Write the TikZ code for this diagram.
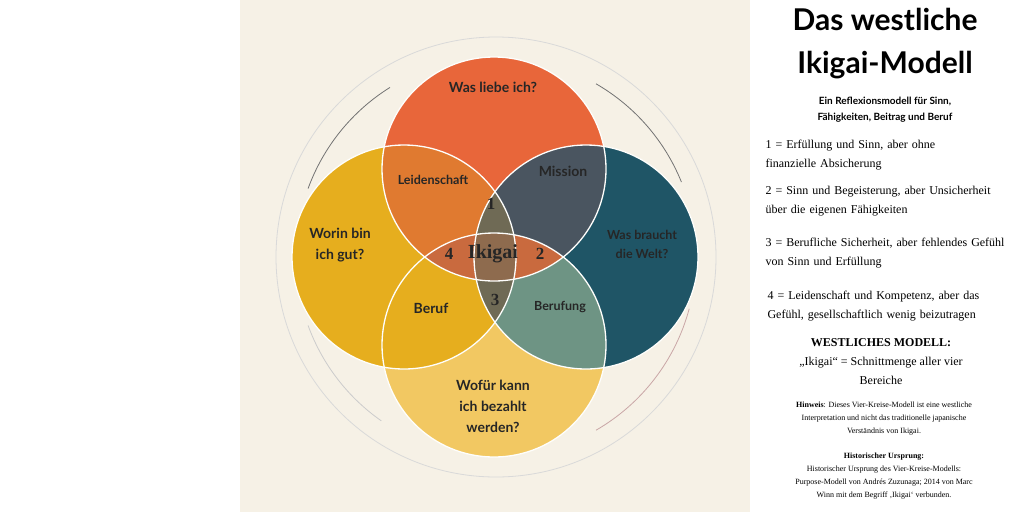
\documentclass[tikz,border=0pt]{standalone}
\usepackage{fontspec}
\setmainfont{Liberation Serif}
\newfontfamily\lato{Lato}
\definecolor{beige}{HTML}{F6F1E6}
\definecolor{cLove}{HTML}{E8663A}
\definecolor{cGood}{HTML}{E6AE1E}
\definecolor{cWorld}{HTML}{1F5566}
\definecolor{cPaid}{HTML}{F2C862}
\definecolor{cPassion}{HTML}{E07A30}
\definecolor{cMission}{HTML}{4A5560}
\definecolor{cVocation}{HTML}{6E9484}
\definecolor{cHoriz}{HTML}{C96A3E}
\definecolor{cVert}{HTML}{6F6A55}
\definecolor{cCore}{HTML}{8E6B4E}
\begin{document}
\begin{tikzpicture}[x=1pt,y=-1pt,
    lbl/.style={font=\lato\bfseries\fontsize{13}{16}\selectfont,align=center,text=black!85},
    num/.style={font=\bfseries\fontsize{17}{18}\selectfont,text=black!85},
    item/.style={font=\fontsize{12}{19}\selectfont,align=left,anchor=west,text width=260pt}]
  \useasboundingbox (0,0) rectangle (1024,512);
  \fill[white] (0,0) rectangle (1024,512);
  \fill[beige] (240,0) rectangle (750,512);
  % centres
  \coordinate (love) at (494,169);
  \coordinate (good) at (404,257);
  \coordinate (world) at (586,257);
  \coordinate (paid) at (494,345);
  \def\rr{112}
  % outer rings (y axis points down, so angles are mirrored)
  \draw[black!15,line width=0.8] (496,257) circle[radius=220];
  \draw[black!55,line width=0.8] (496,257) ++(-122:200) arc[start angle=-122,end angle=-160,radius=200];
  \draw[black!55,line width=0.8] (496,257) ++(-22:200) arc[start angle=-22,end angle=-60,radius=200];
  \draw[red!40!black!35,line width=0.8] (496,257) ++(15:200) arc[start angle=15,end angle=60,radius=200];
  \draw[black!20,line width=0.8] (496,257) ++(125:200) arc[start angle=125,end angle=160,radius=200];
  % circles
  \fill[cGood] (good) circle[radius=\rr];
  \fill[cWorld] (world) circle[radius=\rr];
  \fill[cPaid] (paid) circle[radius=\rr];
  \fill[cLove] (love) circle[radius=\rr];
  \begin{scope}\clip (love) circle[radius=\rr];
    \fill[cPassion] (good) circle[radius=\rr];
    \fill[cMission] (world) circle[radius=\rr];
  \end{scope}
  \begin{scope}\clip (paid) circle[radius=\rr];
    \fill[cGood] (good) circle[radius=\rr];
    \fill[cVocation] (world) circle[radius=\rr];
  \end{scope}
  \begin{scope}\clip (love) circle[radius=\rr];
    \fill[cHoriz] (paid) circle[radius=\rr];
  \end{scope}
  \begin{scope}\clip (good) circle[radius=\rr];
    \fill[cVert] (world) circle[radius=\rr];
    \clip (world) circle[radius=\rr];
    \clip (love) circle[radius=\rr];
    \fill[cCore] (paid) circle[radius=\rr];
  \end{scope}
  \foreach \c in {love,good,world,paid}
    \draw[white!90!beige,line width=1.3] (\c) circle[radius=\rr];
  % labels
  \node[lbl,font=\lato\bfseries\fontsize{14}{16}\selectfont] (qLove) at (493,87) {Was liebe ich?};
  \node[lbl,font=\lato\bfseries\fontsize{14}{21}\selectfont] (qGood) at (340,245) {Worin bin\\ich gut?};
  \node[lbl,font=\lato\bfseries\fontsize{12.5}{19}\selectfont] (qWorld) at (642,244) {Was braucht\\die Welt?};
  \node[lbl,font=\lato\bfseries\fontsize{14}{21}\selectfont] (qPaid) at (493,406) {Wofür kann\\ich bezahlt\\werden?};
  \node[lbl,font=\lato\bfseries\fontsize{12.5}{14}\selectfont] (passion) at (433,180) {Leidenschaft};
  \node[lbl,font=\lato\bfseries\fontsize{14}{16}\selectfont] (mission) at (563,171) {Mission};
  \node[lbl,font=\lato\bfseries\fontsize{14}{16}\selectfont] (profession) at (431,308) {Beruf};
  \node[lbl,font=\lato\bfseries\fontsize{12.5}{14}\selectfont] (vocation) at (560,307) {Berufung};
  \node[num] (n1) at (491,204) {1};
  \node[num] (n4) at (449,254) {4};
  \node[num,font=\bfseries\fontsize{20}{21}\selectfont] (core) at (493,254) {Ikigai};
  \node[num] (n2) at (540,254) {2};
  \node[num] (n3) at (495,300) {3};
  % side panel
  \node[font=\lato\bfseries\fontsize{30}{43}\selectfont,align=center] (title) at (885,44) {Das westliche\\Ikigai-Modell};
  \node[font=\lato\bfseries\fontsize{10}{16}\selectfont,align=center] (sub) at (885,110) {Ein Reflexionsmodell für Sinn,\\Fähigkeiten, Beitrag und Beruf};
  \node[item] (i1) at (762,155) {1 = Erfüllung und Sinn, aber ohne\\finanzielle Absicherung};
  \node[item] (i2) at (762,201) {2 = Sinn und Begeisterung, aber Unsicherheit\\über die eigenen Fähigkeiten};
  \node[item] (i3) at (762,253) {3 = Berufliche Sicherheit, aber fehlendes Gefühl\\von Sinn und Erfüllung};
  \node[item] (i4) at (764,306) {4 = Leidenschaft und Kompetenz, aber das\\Gefühl, gesellschaftlich wenig beizutragen};
  \node[font=\fontsize{12}{19}\selectfont,align=center] (west) at (881,362) {\textbf{WESTLICHES MODELL:}\\„Ikigai“ = Schnittmenge aller vier\\Bereiche};
  \node[font=\fontsize{8}{13}\selectfont,align=center] (note) at (884,419) {\textbf{Hinweis}: Dieses Vier-Kreise-Modell ist eine westliche\\Interpretation und nicht das traditionelle japanische\\Verständnis von Ikigai.};
  \node[font=\fontsize{8}{13}\selectfont,align=center] (origin) at (884,476) {\textbf{Historischer Ursprung:}\\Historischer Ursprung des Vier-Kreise-Modells:\\Purpose-Modell von Andrés Zuzunaga; 2014 von Marc\\Winn mit dem Begriff ‚Ikigai‘ verbunden.};
\end{tikzpicture}
\end{document}
